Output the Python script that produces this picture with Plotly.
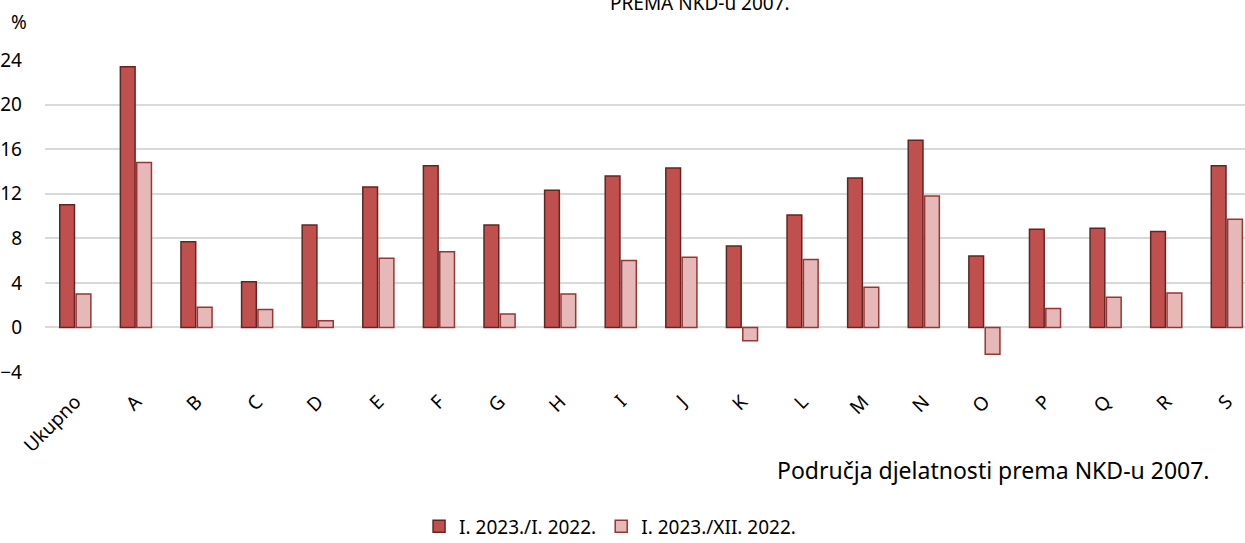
import plotly.graph_objects as go

categories = ["Ukupno", "A", "B", "C", "D", "E", "F", "G", "H", "I",
              "J", "K", "L", "M", "N", "O", "P", "Q", "R", "S"]
series1_name = "I. 2023./I. 2022."
series2_name = "I. 2023./XII. 2022."
series1 = [11.0, 23.4, 7.7, 4.1, 9.2, 12.6, 14.5, 9.2, 12.3, 13.6,
           14.3, 7.3, 10.1, 13.4, 16.8, 6.4, 8.8, 8.9, 8.6, 14.5]
series2 = [3.0, 14.8, 1.8, 1.6, 0.6, 6.2, 6.8, 1.2, 3.0, 6.0,
           6.3, -1.2, 6.1, 3.6, 11.8, -2.4, 1.7, 2.7, 3.1, 9.7]
y_ticks = [-4, 0, 4, 8, 12, 16, 20, 24]

FONT = "Noto Sans"

fig = go.Figure()
fig.add_trace(go.Bar(
    x=categories, y=series1, name=series1_name,
    marker=dict(color="#C0504D", line=dict(color="#632523", width=1.5)),
))
fig.add_trace(go.Bar(
    x=categories, y=series2, name=series2_name,
    marker=dict(color="#E6B9B8", line=dict(color="#953735", width=1.5)),
))

fig.update_layout(
    width=1245, height=543,
    margin=dict(l=45, r=0, t=60, b=171, autoexpand=False),
    paper_bgcolor="white", plot_bgcolor="white",
    barmode="group", bargap=0.46, bargroupgap=0.1,
    font=dict(family=FONT, size=19, color="black"),
    showlegend=True,
    legend=dict(orientation="h", xref="container", yref="paper",
                x=0.49, xanchor="center", y=-0.495, yanchor="middle",
                font=dict(family=FONT, size=19, color="black"),
                traceorder="normal", itemwidth=30),
    xaxis=dict(range=[-0.5, 19.3], tickangle=-45, showgrid=False,
               showline=False, ticks="", ticklabelstandoff=14,
               tickfont=dict(family=FONT, size=19), automargin=False),
    yaxis=dict(range=[-4, 24], tickvals=y_ticks, showgrid=True,
               gridcolor="#D9D9D9", gridwidth=2, zeroline=True,
               zerolinecolor="#D9D9D9", zerolinewidth=2,
               ticks="", ticklabelstandoff=22, automargin=False,
               tickfont=dict(family=FONT, size=19)),
    annotations=[
        dict(text="%", xref="paper", yref="paper", x=-0.03, y=1.0,
             xanchor="left", yanchor="middle", yshift=38, showarrow=False,
             font=dict(family=FONT, size=19)),
        dict(text="PREMA NKD-u 2007.", xref="paper", yref="paper",
             x=(700 - 45) / 1200, y=1.0, xanchor="center", yanchor="middle",
             yshift=57, showarrow=False, font=dict(family=FONT, size=19)),
        dict(text="Područja djelatnosti prema NKD-u 2007.", xref="paper",
             yref="paper", x=(1212 - 45) / 1200, y=0, xanchor="right",
             yanchor="middle", yshift=-98, showarrow=False,
             font=dict(family=FONT, size=23)),
    ],
)

fig.write_html("out.html", config={"displayModeBar": False},
               post_script="document.body.style.margin='0';")
